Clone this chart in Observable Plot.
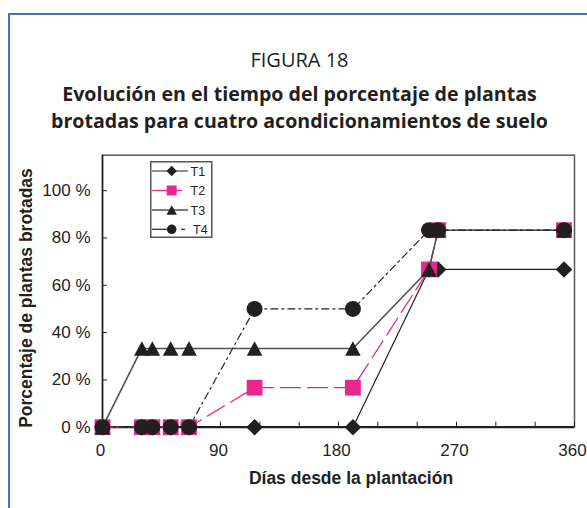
<!DOCTYPE html>
<html>
<head>
<meta charset="utf-8">
<script src="https://cdn.jsdelivr.net/npm/d3@7"></script>
<script src="https://cdn.jsdelivr.net/npm/@observablehq/plot@0.6"></script>
<style>
  html, body { margin: 0; padding: 0; background: #fff; }
  #page { position: relative; width: 587px; height: 508px; overflow: hidden; background: #fff; }
  #frame { position: absolute; left: 8px; top: 13px; width: 700px; height: 600px;
           border-left: 2px solid #4672b4; border-top: 2px solid #4672b4; }
  .t { position: absolute; left: 6px; width: 587px; text-align: center; color: #231f20;
       font-family: "Open Sans", "Noto Sans", sans-serif; white-space: nowrap; }
  #fig { font-size: 20px; line-height: 24px; top: 48px; }
  #ttl1, #ttl2 { font-size: 19.6px; font-weight: bold; line-height: 26px; }
  #ttl1 { top: 81px; }
  #ttl2 { top: 108px; }
  #chart { position: absolute; left: 0; top: 140px; }
  .axt { position: absolute; font-family: "Liberation Sans", Arial, sans-serif; font-weight: bold;
         font-size: 17.5px; color: #231f20; white-space: nowrap; }
  #xt { left: 351px; top: 478px; transform: translate(-50%, -50%); }
  #yt { left: 26px; top: 298px; transform: translate(-50%, -50%) rotate(-90deg); }
  #legend { position: absolute; left: 150px; top: 161px; }
</style>
</head>
<body>
<div id="page">
  <div id="frame"></div>
  <div class="t" id="fig">FIGURA 18</div>
  <div class="t" id="ttl1">Evolución en el tiempo del porcentaje de plantas</div>
  <div class="t" id="ttl2">brotadas para cuatro acondicionamientos de suelo</div>
  <div id="chart"></div>
  <div class="axt" id="xt">Días desde la plantación</div>
  <div class="axt" id="yt">Porcentaje de plantas brotadas</div>
  <div id="legend"></div>
</div>
<script>
// ---- data ----
const days = [0, 30, 38, 52, 66, 116, 191, 249, 256, 352];
const seriesNames = ["T1", "T2", "T3", "T4"];
const t1 = [0, 0, 0, 0, 0, 0, 0, 66.7, 66.7, 66.7];
const t2 = [0, 0, 0, 0, 0, 16.7, 16.7, 66.7, 83.3, 83.3];
const t3 = [0, 33.3, 33.3, 33.3, 33.3, 33.3, 33.3, 66.7, 83.3, 83.3];
const t4 = [0, 0, 0, 0, 0, 50, 50, 83.3, 83.3, 83.3];
const yTicks = [0, 20, 40, 60, 80, 100];
const xLabelTicks = [0, 90, 180, 270, 360];
const xMinorTicks = [0, 30, 60, 90, 120, 150, 180, 210, 240, 270, 300, 330, 360];

// ---- styles ----
const INK = "#231f20";
const PINK = "#e9278e";

function mk(f) { return { draw(ctx, size) { const r = Math.sqrt(size / Math.PI); f(ctx, r); } }; }
const symDiamond = mk((c, r) => { c.moveTo(0, -r); c.lineTo(r, 0); c.lineTo(0, r); c.lineTo(-r, 0); c.closePath(); });
const symSquare = mk((c, r) => { c.rect(-r, -r, 2 * r, 2 * r); });
const symTriangle = mk((c, r) => { c.moveTo(0, -0.93 * r); c.lineTo(r, 0.93 * r); c.lineTo(-r, 0.93 * r); c.closePath(); });
const symCircle = mk((c, r) => { c.moveTo(r, 0); c.arc(0, 0, r, 0, 2 * Math.PI); c.closePath(); });

const seriesValues = [t1, t2, t3, t4];
const seriesStyle = [
  { stroke: INK, strokeWidth: 1.2, dash: null, fill: INK, symbol: symDiamond, r: 8.3 },
  { stroke: PINK, strokeWidth: 1.3, dash: "20,7", fill: PINK, symbol: symSquare, r: 7.9 },
  { stroke: "#505050", strokeWidth: 1.6, dash: null, fill: INK, symbol: symTriangle, r: 7.8 },
  { stroke: INK, strokeWidth: 1.2, dash: "7,4,2,4", fill: INK, symbol: symCircle, r: 8 }
];

const tables = seriesNames.map((name, s) => days.map((d, i) => ({ series: name, day: d, value: seriesValues[s][i] })));

const marks = [
  Plot.frame({ stroke: "#5a5a5a", strokeWidth: 1.5 }),
  Plot.axisY({ ticks: yTicks, tickSize: 0, tickPadding: 12, tickFormat: d => d + " %", label: null, fontSize: 17 }),
  Plot.axisY({ ticks: yTicks, tickSize: 5, dx: 5, tickFormat: () => "", label: null, stroke: INK }),
  Plot.axisX({ ticks: xLabelTicks, tickSize: 0, tickPadding: 17, dx: -2, tickFormat: d => String(d), label: null, fontSize: 17 }),
  Plot.axisX({ ticks: xMinorTicks, tickSize: 5, dy: -5, tickFormat: () => "", label: null, stroke: INK }),
  Plot.ruleX([0], { stroke: INK, strokeWidth: 1.5 }),
  Plot.ruleY([0], { stroke: INK, strokeWidth: 2.2 })
];
tables.forEach((tb, s) => {
  const st = seriesStyle[s];
  marks.push(Plot.line(tb, { x: "day", y: "value", stroke: st.stroke, strokeWidth: st.strokeWidth, strokeDasharray: st.dash }));
  marks.push(Plot.dot(tb, { x: "day", y: "value", symbol: () => st.symbol, r: st.r, fill: st.fill, stroke: "none" }));
});

const chart = Plot.plot({
  width: 587, height: 368,
  marginLeft: 102, marginRight: 13, marginTop: 14.7, marginBottom: 81.3,
  x: { domain: [0, 360] },
  y: { domain: [0, 115] },
  style: { background: "transparent", fontFamily: "'Liberation Sans', Arial, sans-serif", fontSize: "17px", color: INK, overflow: "visible" },
  marks
});
document.getElementById("chart").appendChild(chart);

// ---- legend ----
const lg = d3.select("#legend").append("svg").attr("width", 64).attr("height", 78).style("overflow", "visible");
lg.append("rect").attr("x", 0.75).attr("y", 0.75).attr("width", 61).attr("height", 75.5)
  .attr("fill", "#fff").attr("stroke", "#555").attr("stroke-width", 1.5);
const rowY = [10, 29.5, 49, 68.3];
const legSym = [symDiamond, symSquare, symTriangle, symCircle];
const legR = [5.2, 5, 5.2, 4.8];
seriesNames.forEach((name, s) => {
  const st = seriesStyle[s];
  const y = rowY[s];
  const g = lg.append("g").attr("transform", `translate(0,${y})`);
  if (s === 3) {
    g.append("line").attr("x1", 2).attr("x2", 18).attr("stroke", st.stroke).attr("stroke-width", 1.2);
    g.append("line").attr("x1", 31).attr("x2", 35).attr("stroke", st.stroke).attr("stroke-width", 1.2);
  } else {
    g.append("line").attr("x1", 2).attr("x2", s === 1 ? 32 : 38).attr("stroke", st.stroke).attr("stroke-width", s === 2 ? 1.5 : 1.2);
  }
  const size = Math.PI * legR[s] * legR[s];
  g.append("path").attr("transform", "translate(21.7,0)").attr("d", d3.symbol(legSym[s], size)()).attr("fill", st.fill);
  g.append("text").attr("x", s === 3 ? 43 : 40.5).attr("y", 0).attr("dy", "0.36em")
    .attr("font-family", "'Liberation Sans', Arial, sans-serif").attr("font-size", 12.5).attr("fill", INK).text(name);
});
</script>
</body>
</html>
